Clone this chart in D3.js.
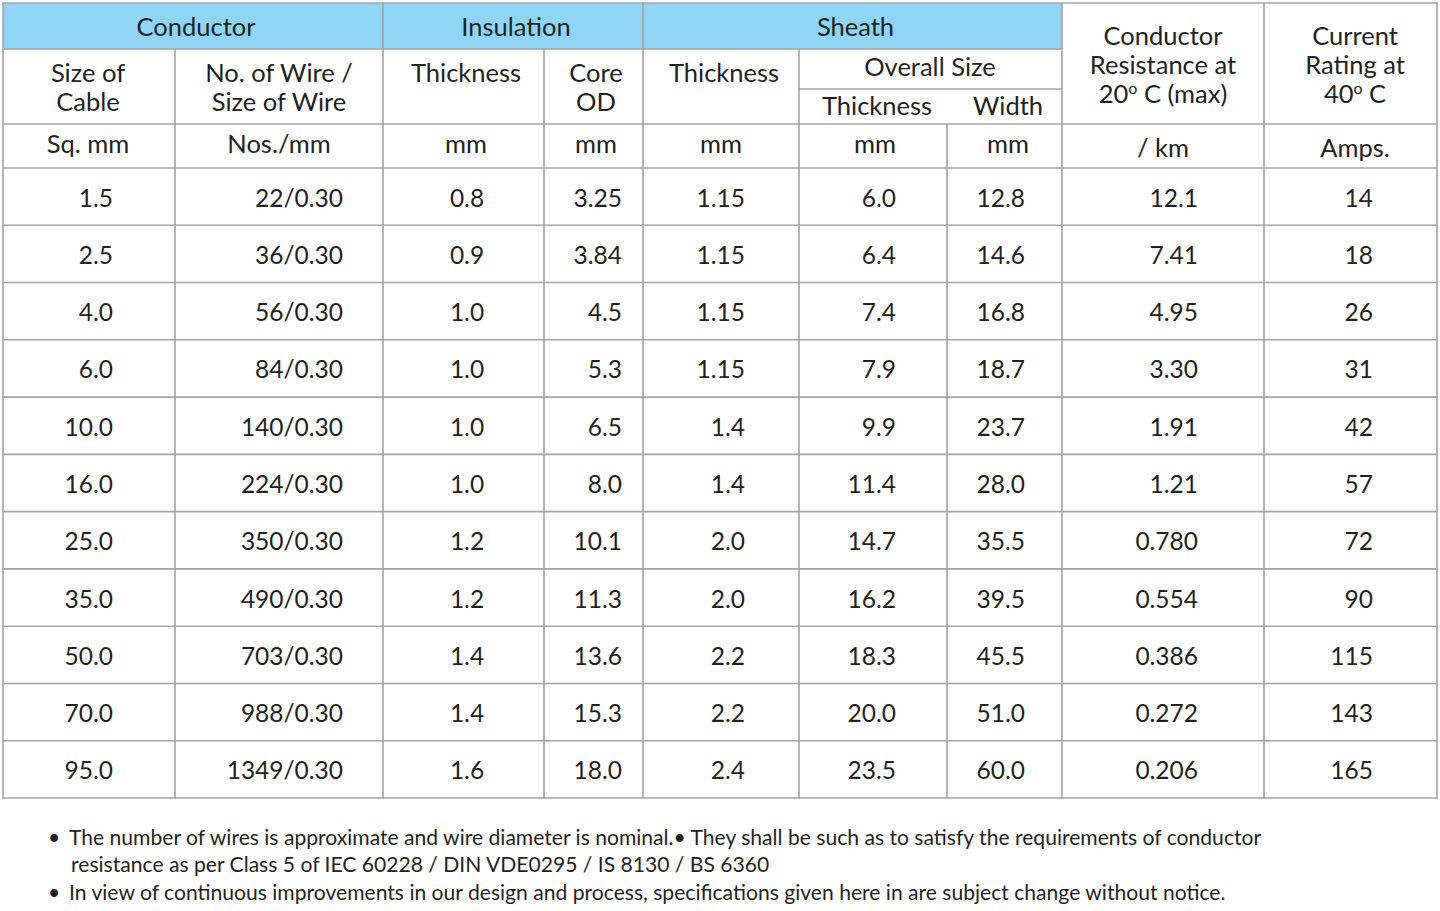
<!DOCTYPE html>
<html><head><meta charset="utf-8">
<script src="https://cdn.jsdelivr.net/npm/d3@7"></script>
<style>
html,body{margin:0;padding:0;background:#fff;}
svg text{font-family:Lato,"Open Sans",sans-serif;fill:#231f20;}
</style></head>
<body><svg id="c" width="1440" height="911"></svg>
<script>
const sizeOfCable = ["1.5","2.5","4.0","6.0","10.0","16.0","25.0","35.0","50.0","70.0","95.0"];
const wireCount = ["22/0.30","36/0.30","56/0.30","84/0.30","140/0.30","224/0.30","350/0.30","490/0.30","703/0.30","988/0.30","1349/0.30"];
const insulationThickness = ["0.8","0.9","1.0","1.0","1.0","1.0","1.2","1.2","1.4","1.4","1.6"];
const coreOD = ["3.25","3.84","4.5","5.3","6.5","8.0","10.1","11.3","13.6","15.3","18.0"];
const sheathThickness = ["1.15","1.15","1.15","1.15","1.4","1.4","2.0","2.0","2.2","2.2","2.4"];
const overallThickness = ["6.0","6.4","7.4","7.9","9.9","11.4","14.7","16.2","18.3","20.0","23.5"];
const overallWidth = ["12.8","14.6","16.8","18.7","23.7","28.0","35.5","39.5","45.5","51.0","60.0"];
const resistance = ["12.1","7.41","4.95","3.30","1.91","1.21","0.780","0.554","0.386","0.272","0.206"];
const currentRating = ["14","18","26","31","42","57","72","90","115","143","165"];
const units = ["Sq. mm","Nos./mm","mm","mm","mm","mm","mm","/ km","Amps."];
const groupHeaders = ["Conductor","Insulation","Sheath"];
const notes = [
  ["The number of wires is approximate and wire diameter is nominal.", "They shall be such as to satisfy the requirements of conductor"],
  ["resistance as per Class 5 of IEC 60228 / DIN VDE0295 / IS 8130 / BS 6360"],
  ["In view of continuous improvements in our design and process, specifications given here in are subject change without notice."]
];

const columns = [sizeOfCable, wireCount, insulationThickness, coreOD, sheathThickness, overallThickness, overallWidth, resistance, currentRating];

const svg = d3.select("#c");
const colAnchor = [
  {x:113,a:"end"},{x:343,a:"end"},{x:467,a:"middle"},{x:622,a:"end"},{x:745,a:"end"},
  {x:896,a:"end"},{x:1025,a:"end"},{x:1198,a:"end"},{x:1373,a:"end"}];

const rowScale = d3.scaleBand().domain(d3.range(sizeOfCable.length)).range([168,798]).padding(0);
const lineColor = "#a3a3a3";
const fs = 24.5;
const hfs = 25.5;

// blue group band
svg.append("rect").attr("x",3).attr("y",3).attr("width",1062-3).attr("height",46).attr("fill","#8fd5f5");

// data cells
const g = svg.append("g");
columns.forEach((col,ci)=>{
  g.selectAll(null).data(col).join("text")
    .attr("x",colAnchor[ci].x)
    .attr("y",(d,i)=>rowScale(i)+rowScale.bandwidth()/2+10)
    .attr("text-anchor",colAnchor[ci].a)
    .attr("font-size",fs)
    .text(d=>d);
});

// group headers
const groupSpans = [[3,383],[383,643],[643,1062]];
groupHeaders.forEach((t,i)=>{
  svg.append("text").attr("x",(groupSpans[i][0]+groupSpans[i][1])/2+3).attr("y",36)
    .attr("text-anchor","middle").attr("font-size",hfs).text(t);
});

function hdr(x,y,t){ return svg.append("text").attr("x",x).attr("y",y).attr("text-anchor","middle").attr("font-size",hfs).text(t); }
hdr(88,82,"Size of"); hdr(88,111,"Cable");
hdr(279,82,"No. of Wire /"); hdr(279,111,"Size of Wire");
hdr(466,82,"Thickness");
hdr(596,82,"Core"); hdr(596,111,"OD");
hdr(724,82,"Thickness");
hdr(930,76,"Overall Size");
hdr(877,115,"Thickness"); hdr(1008,115,"Width");
hdr(1163,45,"Conductor"); hdr(1163,74,"Resistance at");
const r3 = hdr(1163,103,"20"); r3.append("tspan").attr("dy",-9).attr("font-size",16).text("o"); r3.append("tspan").attr("dy",9).text(" C (max)");
hdr(1355,45,"Current"); hdr(1355,74,"Rating at");
const c3 = hdr(1355,103,"40"); c3.append("tspan").attr("dy",-9).attr("font-size",16).text("o"); c3.append("tspan").attr("dy",9).text(" C");

// units
const unitCenters = [88,279,466,596,721,875,1008,1163,1355];
const unitY = [153,153,153,153,153,153,153,157,157];
units.forEach((u,i)=>hdr(unitCenters[i],unitY[i],u));

// grid lines
const lines = [];
lines.push([3,3,1437,3]);
lines.push([3,49,1062,49]);
lines.push([799,89,1062,89]);
lines.push([3,124,1437,124]);
rowScale.domain().forEach(i=>lines.push([3,rowScale(i),1437,rowScale(i)]));
lines.push([3,798,1437,798]);
[3,383,643,1062,1264,1437].forEach(x=>lines.push([x,3,x,798]));
[175,544,799].forEach(x=>lines.push([x,49,x,798]));
lines.push([947,124,947,798]);
svg.append("g").selectAll("line").data(lines).join("line")
  .attr("x1",d=>d[0]).attr("y1",d=>d[1]).attr("x2",d=>d[2]).attr("y2",d=>d[3])
  .attr("stroke",lineColor).attr("stroke-width",1.6).attr("stroke-linecap","square");

// notes
const nf = 21.1;
const noteY = [845,872,900];
const n1 = svg.append("text").attr("x",48).attr("y",noteY[0]).attr("font-size",nf);
n1.append("tspan").text("\u2022 ");
n1.append("tspan").attr("x",69).text(notes[0][0]);
n1.append("tspan").text("\u2022 ");
n1.append("tspan").text(notes[0][1]);
svg.append("text").attr("x",71).attr("y",noteY[1]).attr("font-size",nf).text(notes[1][0]);
const n3 = svg.append("text").attr("x",48).attr("y",noteY[2]).attr("font-size",nf);
n3.append("tspan").text("\u2022 ");
n3.append("tspan").attr("x",69).text(notes[2][0]);
</script></body></html>
